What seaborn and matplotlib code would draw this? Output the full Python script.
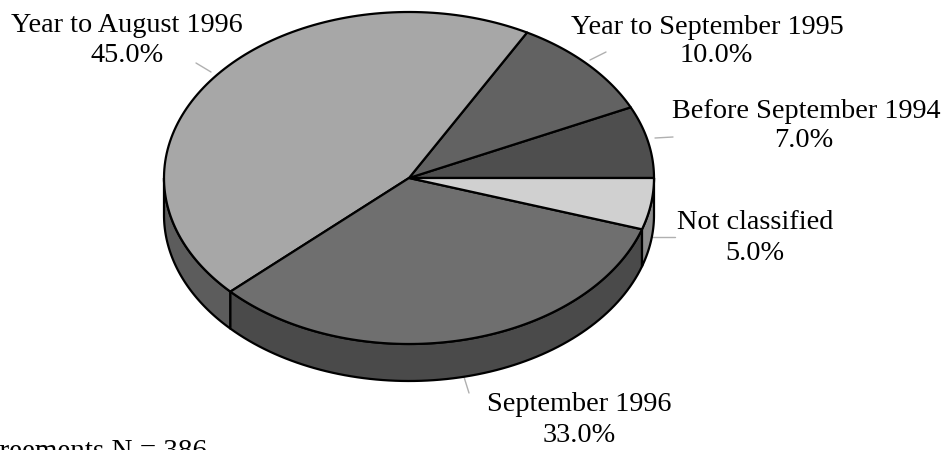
import numpy as np
import matplotlib
matplotlib.use("Agg")
import matplotlib.pyplot as plt
from matplotlib.patches import Polygon
import seaborn as sns

# ---- data ----
categories = ["Before September 1994", "Year to September 1995", "Year to August 1996",
              "September 1996", "Not classified"]
shares = [7.0, 10.0, 45.0, 33.0, 5.0]
top_colors = ["#4e4e4e", "#626262", "#a7a7a7", "#6f6f6f", "#d0d0d0"]
side_colors = ["#3a3a3a", "#444444", "#5c5c5c", "#4a4a4a", "#8c8c8c"]
footnote = "Agreements N = 386"

sns.set_theme(style="white")
plt.rcParams["font.family"] = ["Liberation Serif", "DejaVu Serif"]

fig = plt.figure(figsize=(9.45, 4.5), dpi=100)
ax = fig.add_axes([0, 0, 1, 1])
ax.set_xlim(0, 945)
ax.set_ylim(450, 0)
ax.axis("off")

# geometry of the tilted pie (pixel space)
cx, cy, rx, ry, depth = 409, 178, 245, 166, 37

def pt(theta_deg, dy=0.0):
    t = np.radians(theta_deg)
    return cx + rx * np.cos(t), cy - ry * np.sin(t) + dy

vals = np.array(shares)
bounds = np.concatenate([[0], np.cumsum(vals) / vals.sum() * 360.0])

# sides (front half: 180..360 degrees)
for i in range(len(vals)):
    a0, a1 = bounds[i], bounds[i + 1]
    s0, s1 = max(a0, 180.0), min(a1, 360.0)
    if s1 <= s0:
        continue
    th = np.linspace(s0, s1, 80)
    top = [pt(t) for t in th]
    bot = [pt(t, depth) for t in th[::-1]]
    ax.add_patch(Polygon(top + bot, closed=True, facecolor=side_colors[i],
                         edgecolor="black", linewidth=1.6, joinstyle="round", zorder=1))

# tops
for i in range(len(vals)):
    a0, a1 = bounds[i], bounds[i + 1]
    th = np.linspace(a0, a1, 120)
    poly = [(cx, cy)] + [pt(t) for t in th]
    ax.add_patch(Polygon(poly, closed=True, facecolor=top_colors[i],
                         edgecolor="black", linewidth=1.6, joinstyle="round", zorder=2))

# labels: (name x, name top, value x, value top)
fs = 20.3
label_pos = {
    "Year to August 1996": (127, 13, 127, 43),
    "Year to September 1995": (707, 15, 716, 43),
    "Before September 1994": (806, 99, 804, 128),
    "Not classified": (755, 210, 755, 241),
    "September 1996": (579, 392, 579, 423),
}
leaders = {
    "Year to August 1996": ((196, 63), (211, 72)),
    "Year to September 1995": ((590, 60), (606, 52)),
    "Before September 1994": ((655, 138), (673, 137)),
    "Not classified": ((652, 237), (675, 237)),
    "September 1996": ((464, 377), (469, 393)),
}
for cat, v in zip(categories, shares):
    nx, ny, vx, vy = label_pos[cat]
    ax.text(nx, ny, cat, ha="center", va="top", fontsize=fs, color="black", zorder=3)
    ax.text(vx, vy, f"{v:.1f}%", ha="center", va="top", fontsize=fs, color="black", zorder=3)
    (x0, y0), (x1, y1) = leaders[cat]
    ax.plot([x0, x1], [y0, y1], color="#b0b0b0", linewidth=1.0, zorder=0)

ax.text(207, 459, footnote, ha="right", va="baseline", fontsize=21, color="black")

fig.savefig("out.png", dpi=100)
